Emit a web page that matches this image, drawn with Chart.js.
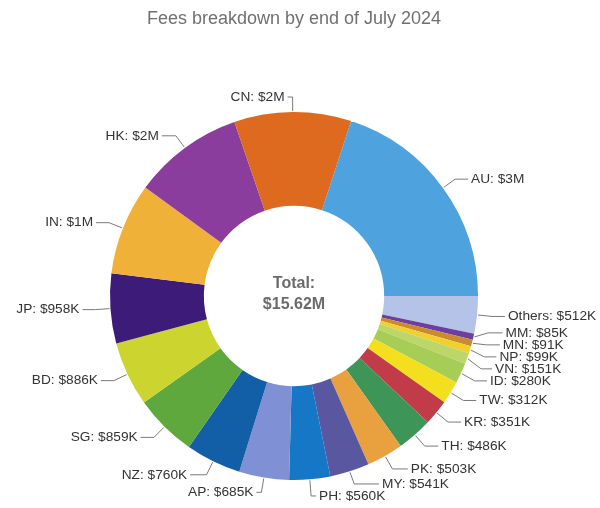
<!DOCTYPE html>
<html>
<head>
<meta charset="utf-8">
<script src="https://cdn.jsdelivr.net/npm/chart.js@4.4.1/dist/chart.umd.min.js"></script>
<style>
  html, body { margin: 0; padding: 0; background: #ffffff; }
  #wrap { width: 600px; height: 508px; }
</style>
</head>
<body>
<div id="wrap"><canvas id="fees" width="600" height="508"></canvas></div>
<script>
// Fees per market, in thousands of dollars, largest first (Others last)
const markets = ['AU', 'CN', 'HK', 'IN', 'JP', 'BD', 'SG', 'NZ', 'AP', 'PH', 'MY', 'PK', 'TH', 'KR', 'TW', 'ID', 'VN', 'NP', 'MN', 'MM', 'Others'];
const feesK = [3120, 1605, 1518, 1258, 958, 886, 859, 760, 685, 560, 541, 503, 486, 351, 312, 280, 151, 99, 91, 85, 512];
const marketColors = ['#4ea3de', '#dd6a1e', '#8a3d9d', '#f0b138', '#3d1c79', '#ccd42f', '#5fa83e', '#125fa8', '#8090d4', '#1677c6',
                      '#5a57a1', '#e9a03f', '#3d9557', '#c13b48', '#f4df1f', '#a6cd55', '#bcd66a', '#f1cf2c', '#c98a30', '#6c3ea0', '#b5c3e8'];
const chartTitle = 'Fees breakdown by end of July 2024';
const totalLabel = 'Total:';

// Slices run counter-clockwise from 3 o'clock; Chart.js draws clockwise, so feed it reversed order
const drawLabels = markets.slice().reverse();
const drawValues = feesK.slice().reverse();
const drawColors = marketColors.slice().reverse();

function fmtMoney(k) {
  if (k >= 1000) return '$' + Math.round(k / 1000) + 'M';
  return '$' + k + 'K';
}
const totalK = feesK.reduce((s, v) => s + v, 0);
const totalText = '$' + (totalK / 1000).toFixed(2) + 'M';

const LABEL_FONT = '13.7px "Liberation Sans", Arial, sans-serif';
const LABEL_GAP = 12;

// Isotonic spreading so stacked labels keep a minimum vertical gap
function spread(items, gap) {
  const blocks = [];
  items.forEach((it, i) => {
    blocks.push({ sum: it.want - i * gap, n: 1, start: i });
    while (blocks.length > 1) {
      const b = blocks[blocks.length - 1], p = blocks[blocks.length - 2];
      if (p.sum / p.n > b.sum / b.n) {
        p.sum += b.sum; p.n += b.n; blocks.pop();
      } else break;
    }
  });
  blocks.forEach(b => {
    const z = b.sum / b.n;
    for (let k = 0; k < b.n; k++) {
      const i = b.start + k;
      items[i].ly = z + i * gap;
    }
  });
}

const outerLabels = {
  id: 'outerLabels',
  afterDatasetsDraw(chart) {
    const meta = chart.getDatasetMeta(0);
    const ctx = chart.ctx;
    const right = [], left = [];
    meta.data.forEach((arc, i) => {
      const p = arc.getProps(['x', 'y', 'startAngle', 'endAngle', 'outerRadius'], true);
      const a = (p.startAngle + p.endAngle) / 2;
      const c = Math.cos(a), s = Math.sin(a);
      const R = p.outerRadius;
      const it = {
        text: drawLabels[i] + ': ' + fmtMoney(drawValues[i]),
        cx: p.x, cy: p.y, R, c, s,
        x0: p.x + (R + 1) * c, y0: p.y + (R + 1) * s,
        x1: p.x + (R + 15) * c, want: p.y + (R + 15) * s
      };
      (c >= 0 ? right : left).push(it);
    });
    [right, left].forEach((side, si) => {
      side.sort((u, v) => u.want - v.want);
      spread(side, LABEL_GAP);
      const dir = si === 0 ? 1 : -1;
      ctx.save();
      ctx.font = LABEL_FONT;
      ctx.fillStyle = '#333333';
      ctx.strokeStyle = '#7a7a7a';
      ctx.lineWidth = 1;
      ctx.textBaseline = 'middle';
      ctx.textAlign = dir > 0 ? 'left' : 'right';
      side.forEach(it => {
        const rx = it.R + 31, ry = it.R + 22;
        const dy = it.ly - it.cy;
        let tx;
        if (Math.abs(it.s) > 0.98) {
          tx = it.x1 + dir * 8;
        } else {
          tx = it.cx + dir * rx * Math.sqrt(Math.max(0, 1 - (dy / ry) * (dy / ry)));
          if (dir > 0) tx = Math.max(tx, it.x1 + 8); else tx = Math.min(tx, it.x1 - 8);
        }
        ctx.beginPath();
        ctx.moveTo(it.x0, it.y0);
        ctx.lineTo(it.x1, it.ly);
        ctx.lineTo(tx - dir * 3, it.ly);
        ctx.stroke();
        ctx.fillText(it.text, tx, it.ly);
      });
      ctx.restore();
    });
  }
};

const centerTotal = {
  id: 'centerTotal',
  afterDatasetsDraw(chart) {
    const arc = chart.getDatasetMeta(0).data[0];
    if (!arc) return;
    const { x, y } = arc.getProps(['x', 'y'], true);
    const ctx = chart.ctx;
    ctx.save();
    ctx.font = 'bold 16px "Liberation Sans", Arial, sans-serif';
    ctx.fillStyle = '#6b6b6b';
    ctx.textAlign = 'center';
    ctx.textBaseline = 'middle';
    ctx.fillText(totalLabel, x, y - 12);
    ctx.fillText(totalText, x, y + 9);
    ctx.restore();
  }
};

new Chart(document.getElementById('fees'), {
  type: 'doughnut',
  data: {
    labels: drawLabels,
    datasets: [{
      data: drawValues,
      backgroundColor: drawColors,
      borderWidth: 0,
      hoverOffset: 0,
      offset: 0
    }]
  },
  options: {
    responsive: false,
    animation: false,
    devicePixelRatio: 1,
    rotation: 90,
    cutout: '49%',
    layout: { padding: { top: 8, bottom: 28, left: 100, right: 112 } },
    plugins: {
      legend: { display: false },
      tooltip: { enabled: false },
      title: {
        display: true,
        text: chartTitle,
        color: '#707070',
        font: { family: '"Liberation Sans", Arial, sans-serif', size: 18, weight: 'normal', lineHeight: 1.2 },
        padding: { top: 0, bottom: 82.4 }
      }
    }
  },
  plugins: [outerLabels, centerTotal]
});
</script>
</body>
</html>
